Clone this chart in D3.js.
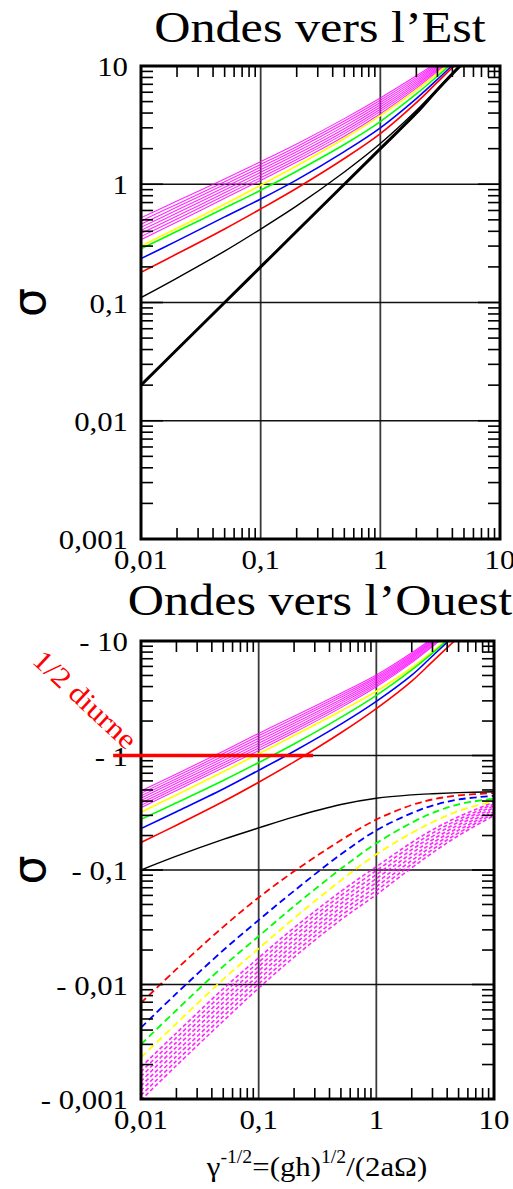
<!DOCTYPE html>
<html>
<head>
<meta charset="utf-8">
<script src="https://cdn.jsdelivr.net/npm/d3@7"></script>
<style>
body { margin: 0; background: #fff; }
svg { display: block; }
</style>
</head>
<body>
<svg id="chart" width="513" height="1189"></svg>
<script>
// gamma^-1/2 values where every curve is read
const xVals = [0.01, 0.02, 0.05, 0.1, 0.2, 0.5, 1, 2, 3, 5, 10]

// eastward waves (sigma)
const eastKelvin = [0.02, 0.04, 0.1, 0.2, 0.4, 1.0, 2.0, 4.0, 6.3, 10.8, 21]
const eastYanai = [0.11, 0.161, 0.272, 0.418, 0.656, 1.27, 2.21, 4.2, 6.4, 11, 21]
const eastRed = [0.18, 0.258, 0.419, 0.618, 0.925, 1.65, 2.68, 4.9, 7.3, 12, 22]
const eastBlue = [0.235, 0.332, 0.53, 0.75, 1.09, 1.89, 3.0, 5.3, 7.7, 12.5, 23]
const eastGreen = [0.285, 0.4, 0.629, 0.89, 1.29, 2.17, 3.39, 5.8, 8.2, 13, 24]
const eastYellow = [0.3, 0.425, 0.678, 0.98, 1.435, 2.44, 3.8, 6.26, 8.66, 13.4, 25]
const eastMagenta = [
    [0.34, 0.48, 0.76, 1.08, 1.54, 2.55, 3.95, 6.5, 9.0, 14, 26.5],
    [0.361, 0.509, 0.802, 1.137, 1.62, 2.68, 4.13, 6.73, 9.24, 14.2, 26.4],
    [0.384, 0.539, 0.847, 1.198, 1.7, 2.81, 4.31, 6.96, 9.48, 14.4, 26.3],
    [0.408, 0.571, 0.894, 1.261, 1.79, 2.95, 4.5, 7.2, 9.73, 14.6, 26.2],
    [0.433, 0.605, 0.944, 1.328, 1.88, 3.1, 4.71, 7.45, 9.99, 14.8, 26.2],
    [0.46, 0.641, 0.996, 1.398, 1.98, 3.26, 4.92, 7.71, 10.25, 15.0, 26.1],
    [0.489, 0.679, 1.052, 1.472, 2.08, 3.42, 5.14, 7.98, 10.52, 15.2, 26],
    [0.52, 0.72, 1.11, 1.55, 2.19, 3.59, 5.37, 8.26, 10.8, 15.4, 26]
]

// westward waves (sigma), solid = gravity, dashed = Rossby
const westYanai = [0.1, 0.132, 0.185, 0.233, 0.291, 0.373, 0.423, 0.453, 0.464, 0.474, 0.482]
const westRed = [0.174, 0.246, 0.396, 0.584, 0.88, 1.58, 2.57, 4.47, 6.6, 10.8, 20]
const westBlue = [0.23, 0.323, 0.51, 0.742, 1.09, 1.88, 2.97, 5.03, 7.4, 12, 22]
const westGreen = [0.277, 0.386, 0.605, 0.868, 1.26, 2.15, 3.35, 5.6, 7.85, 12.4, 23.8]
const westYellow = [0.32, 0.4525, 0.722, 1.035, 1.495, 2.45, 3.64, 5.84, 8.08, 12.6, 24]
const westMagenta = [
    [0.35, 0.495, 0.782, 1.106, 1.586, 2.62, 3.98, 6.47, 8.95, 13.9, 26],
    [0.367, 0.519, 0.82, 1.162, 1.662, 2.73, 4.12, 6.66, 9.17, 14.2, 26.5],
    [0.385, 0.544, 0.86, 1.22, 1.742, 2.85, 4.26, 6.85, 9.39, 14.5, 27],
    [0.404, 0.571, 0.902, 1.281, 1.826, 2.97, 4.41, 7.05, 9.62, 14.8, 27.5],
    [0.424, 0.599, 0.946, 1.346, 1.913, 3.09, 4.56, 7.25, 9.86, 15.1, 28],
    [0.445, 0.628, 0.992, 1.414, 2.005, 3.22, 4.72, 7.46, 10.1, 15.4, 28.5],
    [0.467, 0.658, 1.04, 1.485, 2.1, 3.36, 4.88, 7.68, 10.35, 15.7, 29],
    [0.49, 0.69, 1.09, 1.56, 2.2, 3.5, 5.05, 7.9, 10.6, 16, 30]
]
const rossbyRed = [0.0069, 0.0136, 0.0319, 0.0575, 0.0974, 0.182, 0.276, 0.369, 0.413, 0.448, 0.47]
const rossbyBlue = [0.0042, 0.00835, 0.0199, 0.0365, 0.0657, 0.137, 0.222, 0.314, 0.365, 0.413, 0.445]
const rossbyGreen = [0.003, 0.00596, 0.0144, 0.0264, 0.0483, 0.1024, 0.171, 0.259, 0.315, 0.375, 0.42]
const rossbyYellow = [0.0023, 0.00457, 0.0111, 0.0206, 0.0379, 0.0811, 0.137, 0.211, 0.261, 0.328, 0.399]
const rossbyMagenta = [
    [0.0019, 0.00377, 0.00917, 0.0171, 0.0313, 0.065, 0.107, 0.174, 0.224, 0.292, 0.393],
    [0.001729, 0.003433, 0.008361, 0.015673, 0.02878, 0.0599, 0.0988, 0.1618, 0.2097, 0.2766, 0.378],
    [0.001573, 0.003127, 0.007622, 0.014367, 0.02645, 0.05523, 0.0911, 0.1505, 0.1964, 0.262, 0.3635],
    [0.001431, 0.002848, 0.006949, 0.01317, 0.02431, 0.05092, 0.0841, 0.14, 0.1839, 0.2482, 0.3496],
    [0.001302, 0.002594, 0.006335, 0.012073, 0.02235, 0.04695, 0.0776, 0.1302, 0.1722, 0.2352, 0.3362],
    [0.001184, 0.002363, 0.005775, 0.011067, 0.02054, 0.04329, 0.0716, 0.1211, 0.1612, 0.2228, 0.3233],
    [0.001077, 0.002152, 0.005265, 0.010145, 0.01888, 0.03991, 0.0661, 0.1126, 0.1509, 0.2111, 0.3109],
    [0.00098, 0.00196, 0.0048, 0.0093, 0.01735, 0.0368, 0.061, 0.1047, 0.1413, 0.2, 0.299]
]

// the semi-diurnal marker: sigma = 1 between two x values
const halfDiurnal = { from: 0.0058, to: 0.29, sigma: 1 }

// tick labels
const xTickValues = [0.01, 0.1, 1, 10]
const xTickLabels = ["0,01", "0,1", "1", "10"]
const yTickValues = [10, 1, 0.1, 0.01, 0.001]
const yTickLabels = ["10", "1", "0,1", "0,01", "0,001"]

const svg = d3.select("#chart")
svg.append("rect").attr("width", 513).attr("height", 1189).attr("fill", "#fff")

const serif = "'Liberation Serif', 'Times New Roman', serif"
const stretch = 1.14

// the reference's text is a little wider than plain Times, so stretch it
let stretchedText = (g, x, y, str, size, anchor, color) => {
    return g.append("text")
        .attr("transform", `translate(${x},${y}) scale(${stretch},1)`)
        .attr("text-anchor", anchor)
        .attr("font-family", serif)
        .attr("font-size", size)
        .attr("fill", color || "#000")
        .text(str)
}

let drawPanel = (box, title, titleY, negative, curves, id) => {
    let g = svg.append("g")
    let x = d3.scaleLog().domain([0.01, 10]).range([box.left, box.right])
    let y = d3.scaleLog().domain([0.001, 10]).range([box.bottom, box.top])

    g.append("clipPath").attr("id", id).append("rect")
        .attr("x", box.left).attr("y", box.top)
        .attr("width", box.right - box.left).attr("height", box.bottom - box.top)

    // major grid
    g.selectAll(".vgrid").data([0.1, 1]).enter().append("line")
        .attr("x1", d => x(d)).attr("x2", d => x(d))
        .attr("y1", box.top).attr("y2", box.bottom)
        .attr("stroke", "#3a3a3a").attr("stroke-width", 1.8)
    g.selectAll(".hgrid").data([1, 0.1, 0.01]).enter().append("line")
        .attr("y1", d => y(d)).attr("y2", d => y(d))
        .attr("x1", box.left).attr("x2", box.right)
        .attr("stroke", "#111").attr("stroke-width", 1.3)

    // curves
    let line = d3.line()
        .x((d, i) => x(xVals[i]))
        .y(d => y(d))
        .curve(d3.curveCatmullRom.alpha(0.5))
    let cg = g.append("g").attr("clip-path", `url(#${id})`)
    curves.forEach(c => {
        cg.append("path")
            .attr("d", line(c.values))
            .attr("fill", "none")
            .attr("stroke", c.color)
            .attr("stroke-width", c.width)
            .attr("stroke-dasharray", c.dash || null)
            .attr("stroke-opacity", c.opacity || 1)
    })

    // ticks: minors on all four sides, pointing inward
    let minors = []
    for (let e = -3; e < 1; e++) {
        for (let m = 2; m < 10; m++) minors.push(m * Math.pow(10, e))
    }
    let yMinor = minors.filter(v => v > 0.001 && v < 10)
    let xMinor = minors.filter(v => v > 0.01 && v < 10)
    let tk = g.append("g").attr("stroke", "#000").attr("stroke-width", 1.6)
    yMinor.forEach(v => {
        tk.append("line").attr("x1", box.left).attr("x2", box.left + 12).attr("y1", y(v)).attr("y2", y(v))
        tk.append("line").attr("x1", box.right).attr("x2", box.right - 12).attr("y1", y(v)).attr("y2", y(v))
    })
    yTickValues.forEach(v => {
        tk.append("line").attr("x1", box.left).attr("x2", box.left + 22).attr("y1", y(v)).attr("y2", y(v))
        tk.append("line").attr("x1", box.right).attr("x2", box.right - 22).attr("y1", y(v)).attr("y2", y(v))
    })
    xMinor.forEach(v => {
        tk.append("line").attr("x1", x(v)).attr("x2", x(v)).attr("y1", box.top).attr("y2", box.top + 11)
        tk.append("line").attr("x1", x(v)).attr("x2", x(v)).attr("y1", box.bottom).attr("y2", box.bottom - 11)
    })

    // frame
    g.append("rect")
        .attr("x", box.left).attr("y", box.top)
        .attr("width", box.right - box.left).attr("height", box.bottom - box.top)
        .attr("fill", "none").attr("stroke", "#000").attr("stroke-width", 3)

    // tick labels
    yTickValues.forEach((v, i) => {
        let str = negative ? "- " + yTickLabels[i] : yTickLabels[i]
        stretchedText(g, 128, y(v) + 10, str, 27, "end")
    })
    xTickValues.forEach((v, i) => {
        stretchedText(g, x(v), box.bottom + 30, xTickLabels[i], 27, "middle")
    })

    // title and sigma label
    stretchedText(g, 320, titleY, title, 44, "middle")
    g.append("text")
        .attr("transform", `translate(45,${(box.top + box.bottom) / 2}) rotate(-90)`)
        .attr("text-anchor", "middle")
        .attr("font-family", "'DejaVu Sans', sans-serif")
        .attr("font-size", 46)
        .text("σ")

    return { x, y, g }
}

let topCurves = []
eastMagenta.forEach(v => topCurves.push({ values: v, color: "#ff00ff", width: 1.1, opacity: 0.85 }))
topCurves.push({ values: eastYellow, color: "#ffff00", width: 1.6 })
topCurves.push({ values: eastGreen, color: "#00ff00", width: 1.6 })
topCurves.push({ values: eastBlue, color: "#0000ff", width: 1.6 })
topCurves.push({ values: eastRed, color: "#ff0000", width: 1.6 })
topCurves.push({ values: eastYanai, color: "#000", width: 1.4 })
topCurves.push({ values: eastKelvin, color: "#000", width: 3 })

drawPanel({ left: 141, right: 500, top: 66, bottom: 539 }, "Ondes vers l’Est", 42, false, topCurves, "clipTop")

let botCurves = []
rossbyMagenta.forEach(v => botCurves.push({ values: v, color: "#ff00ff", width: 1.6, dash: "4,2.5", opacity: 0.85 }))
botCurves.push({ values: rossbyYellow, color: "#ffff00", width: 1.8, dash: "7,4" })
botCurves.push({ values: rossbyGreen, color: "#00ff00", width: 1.8, dash: "7,4" })
botCurves.push({ values: rossbyBlue, color: "#0000ff", width: 1.8, dash: "7,4" })
botCurves.push({ values: rossbyRed, color: "#ff0000", width: 1.8, dash: "7,4" })
westMagenta.forEach(v => botCurves.push({ values: v, color: "#ff00ff", width: 1.1, opacity: 0.85 }))
botCurves.push({ values: westYellow, color: "#ffff00", width: 1.6 })
botCurves.push({ values: westGreen, color: "#00ff00", width: 1.6 })
botCurves.push({ values: westBlue, color: "#0000ff", width: 1.6 })
botCurves.push({ values: westRed, color: "#ff0000", width: 1.6 })
botCurves.push({ values: westYanai, color: "#000", width: 1.4 })

let bot = drawPanel({ left: 141, right: 494, top: 641, bottom: 1099 }, "Ondes vers l’Ouest", 615, true, botCurves, "clipBot")

// semi-diurnal line and its label
bot.g.append("line")
    .attr("x1", bot.x(halfDiurnal.from)).attr("x2", bot.x(halfDiurnal.to))
    .attr("y1", bot.y(halfDiurnal.sigma)).attr("y2", bot.y(halfDiurnal.sigma))
    .attr("stroke", "#ff0000").attr("stroke-width", 3.5)
bot.g.append("text")
    .attr("transform", "translate(31,662) rotate(43) scale(1.14,1)")
    .attr("font-family", serif)
    .attr("font-size", 28)
    .attr("fill", "#ff0000")
    .text("1/2 diurne")

// x axis title
let xt = svg.append("text")
    .attr("transform", "translate(317,1176) scale(1.1,1)")
    .attr("text-anchor", "middle")
    .attr("font-family", serif)
    .attr("font-size", 28)
xt.append("tspan").text("γ")
xt.append("tspan").attr("dy", -13).attr("font-size", 18).text("-1/2")
xt.append("tspan").attr("dy", 13).text("=(gh)")
xt.append("tspan").attr("dy", -13).attr("font-size", 18).text("1/2")
xt.append("tspan").attr("dy", 13).text("/(2aΩ)")
</script>
</body>
</html>
